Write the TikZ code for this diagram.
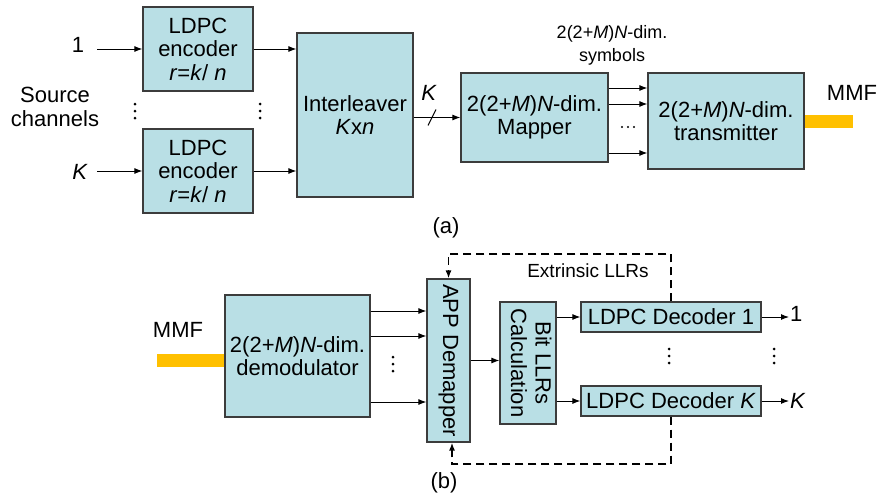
\documentclass[tikz,border=0pt]{standalone}
\usepackage{fontspec}
\setmainfont{Liberation Sans}
\usetikzlibrary{arrows.meta,calc}
\definecolor{boxfill}{RGB}{185,223,229}
\definecolor{boxline}{RGB}{60,60,60}
\definecolor{fibercol}{RGB}{255,192,0}
\begin{document}
\begin{tikzpicture}[x=1pt,y=-1pt,
  font=\fontsize{22}{23.5}\selectfont,
  blk/.style={draw=boxline, fill=boxfill, line width=1.2pt, inner sep=0pt, align=center},
  arr/.style={-{Latex[length=8pt,width=6pt]}, line width=1pt},
  fbk/.style={-{Latex[length=8pt,width=6pt]}, line width=1.4pt, dash pattern=on 8pt off 5pt},
  lbl/.style={inner sep=1pt, align=center},
  smalltxt/.style={font=\fontsize{18}{23}\selectfont},
  fiberbar/.style={fill=fibercol, inner sep=0pt, minimum height=13pt},
  vdts/.pic={\fill (0,-7) circle[radius=1.5pt] (0,0) circle[radius=1.5pt] (0,7) circle[radius=1.5pt];},
  hdts/.pic={\fill (-6,0) circle[radius=1.1pt] (0,0) circle[radius=1.1pt] (6,0) circle[radius=1.1pt];}
]
\useasboundingbox (0,0) rectangle (878,498);

% ---------- (a) transmitter ----------
\node[blk, minimum width=110pt, minimum height=84pt] (enc1) at (198,49) {LDPC\\encoder\\\textit{r}=\textit{k}/ \textit{n}};
\node[blk, minimum width=110pt, minimum height=84pt] (encK) at (198,171) {LDPC\\encoder\\\textit{r}=\textit{k}/ \textit{n}};
\node[lbl] (in1) at (78,45) {1};
\node[lbl] (inK) at (80,172) {\textit{K}};
\node[lbl] (src) at (55,107) {Source\\channels};
\coordinate (s1) at (97,49);
\coordinate (sK) at (97,171);
\draw[arr] (s1) -- (enc1.west);
\draw[arr] (sK) -- (encK.west);
\pic at (135,111) {vdts};
\pic at (260,111) {vdts};

\node[blk, minimum width=116pt, minimum height=164pt] (il) at (355,115) {Interleaver\\\textit{K}x\textit{n}};
\draw[arr] (enc1.east) -- (enc1.east -| il.west);
\draw[arr] (encK.east) -- (encK.east -| il.west);

\node[blk, minimum width=147pt, minimum height=89pt] (map) at (534.5,117.5) {2(2+\textit{M})\textit{N}-dim.\\Mapper};
\draw[arr] (map.west -| il.east) -- (map.west);
\coordinate (sl) at (432,117.5);
\draw[line width=1pt] ($(sl)+(-4,8)$) -- ($(sl)+(4,-8)$);
\node[lbl] (kl) at (429,93) {\textit{K}};

\node[blk, minimum width=156pt, minimum height=96pt] (tx) at (726,121) {2(2+\textit{M})\textit{N}-dim.\\transmitter};
\coordinate (y88) at (0,88);
\coordinate (y104) at (0,104);
\coordinate (y153) at (0,153);
\draw[arr] (map.east |- y88) -- (tx.west |- y88);
\draw[arr] (map.east |- y104) -- (tx.west |- y104);
\draw[arr] (map.east |- y153) -- (tx.west |- y153);
\pic at (628,127) {hdts};
\node[lbl, smalltxt] (sym) at (612,45) {2(2+\textit{M})\textit{N}-dim.\\symbols};
\node[fiberbar, minimum width=48pt, anchor=west] (fib1) at (tx.east) {};
\node[lbl] (mmf1) at (852,93) {MMF};
\node[lbl] (capa) at (446,228) {(a)};

% ---------- (b) receiver ----------
\node[blk, minimum width=145pt, minimum height=122pt] (dem) at (297.5,356) {2(2+\textit{M})\textit{N}-dim.\\demodulator};
\coordinate (y360) at (0,360.5);
\node[fiberbar, minimum width=67pt, anchor=east] (fib2) at (dem.west |- y360) {};
\node[lbl] (mmf2) at (178,330) {MMF};

\node[blk, minimum width=43pt, minimum height=163pt] (app) at (448.5,360.5) {\rotatebox{-90}{APP Demapper}};
\coordinate (y311) at (0,311);
\coordinate (y336) at (0,336);
\coordinate (y402) at (0,402);
\draw[arr] (dem.east |- y311) -- (app.west |- y311);
\draw[arr] (dem.east |- y336) -- (app.west |- y336);
\draw[arr] (dem.east |- y402) -- (app.west |- y402);
\pic at (393,364) {vdts};

\node[blk, minimum width=56pt, minimum height=122pt] (bit) at (528,363) {\rotatebox{-90}{\begin{tabular}{@{}c@{}}Bit LLRs\\[1pt]Calculation\end{tabular}}};
\draw[arr] (app.east |- y360) -- (bit.west |- y360);

\node[blk, minimum width=180pt, minimum height=30pt] (dec1) at (671,317) {LDPC Decoder 1};
\node[blk, minimum width=180pt, minimum height=30pt] (decK) at (671,401) {LDPC Decoder \textit{K}};
\draw[arr] (bit.east |- dec1.west) -- (dec1.west);
\draw[arr] (bit.east |- decK.west) -- (decK.west);
\node[lbl, anchor=west] (out1) at (789,314) {1};
\node[lbl, anchor=west] (outK) at (789,401) {\textit{K}};
\draw[arr] (dec1.east) -- (dec1.east -| out1.west);
\draw[arr] (decK.east) -- (decK.east -| outK.west);
\pic at (669,356) {vdts};
\pic at (774,356) {vdts};

\coordinate (ftop) at (448.5,254);
\coordinate (fbot) at (452,464);
\draw[fbk] (dec1.north) |- (ftop) -- (app.north);
\draw[fbk] (decK.south) |- (fbot) -- (fbot |- app.south);
\node[lbl, font=\fontsize{19}{22}\selectfont] (ext) at (588,271) {Extrinsic LLRs};
\node[lbl] (capb) at (444,483) {(b)};
\end{tikzpicture}
\end{document}
